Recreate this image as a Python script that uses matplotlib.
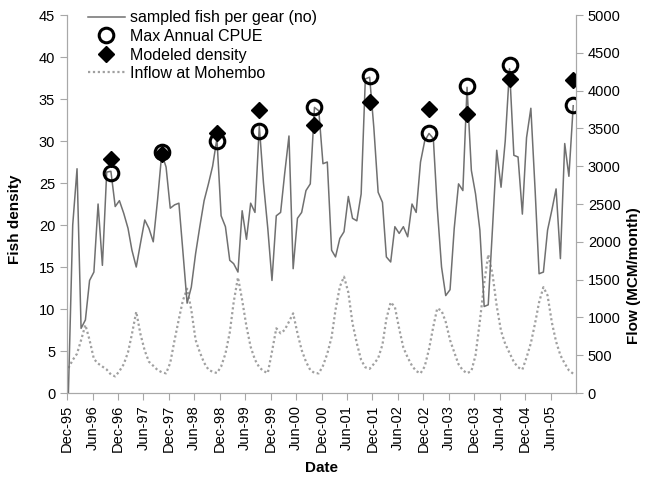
import pandas as pd
import matplotlib
matplotlib.use("Agg")
import matplotlib.pyplot as plt
import matplotlib.dates as mdates

plt.rcParams['font.family'] = ['Liberation Sans', 'DejaVu Sans']

# monthly series, Dec-95 .. Nov-05
fish = [0, 20, 26.7, 7.7, 8.7, 13.4, 14.4, 22.5, 15.2, 26.3,
        26.4, 22.2, 22.9, 21.4, 19.6, 17, 15, 17.8, 20.6, 19.6,
        18, 23, 28.5, 26.9, 22, 22.4, 22.6, 17, 10.7, 12.6,
        16.6, 19.8, 22.9, 24.9, 27, 30.3, 21.1, 19.8, 15.8, 15.4,
        14.4, 21.7, 18.3, 22.6, 21.5, 31.8, 25, 19.6, 13.4, 21.1,
        21.5, 26.1, 30.6, 14.8, 20.8, 21.5, 24.1, 24.9, 34, 33.6,
        27.3, 27.5, 17, 16.2, 18.4, 19.2, 23.4, 20.8, 20.5, 23.7,
        37.4, 37.6, 31.6, 23.9, 22.7, 16.2, 15.6, 19.8, 19, 19.8,
        18.6, 22.5, 21.5, 27.5, 30, 30.9, 30.3, 22.1, 15, 11.6,
        12.3, 19.6, 24.9, 24.1, 36.4, 26.5, 23.7, 19.4, 10.3, 10.5,
        19.7, 28.9, 24.5, 30, 38.6, 28.3, 28.1, 21.3, 30.4, 33.9,
        24, 14.2, 14.4, 19.4, 21.8, 24.3, 16, 29.7, 25.8, 34.2]

flow = [330, 437, 520, 700, 900, 700, 450, 390, 350, 310,
        245, 220, 290, 380, 540, 780, 1075, 780, 560, 414,
        360, 304, 275, 260, 400, 700, 980, 1220, 1380, 1100,
        700, 540, 400, 310, 280, 265, 350, 520, 800, 1200,
        1530, 1230, 880, 610, 440, 340, 290, 265, 546, 856,
        790, 834, 943, 1054, 790, 569, 414, 304, 265, 260,
        360, 520, 740, 1100, 1406, 1539, 1330, 922, 657, 437,
        340, 320, 385, 460, 640, 980, 1200, 1140, 850, 600,
        470, 360, 290, 260, 350, 580, 880, 1120, 1090, 940,
        700, 540, 380, 300, 262, 290, 500, 950, 1450, 1830,
        1570, 1150, 820, 650, 530, 410, 340, 310, 470, 660,
        930, 1200, 1400, 1290, 930, 680, 500, 390, 300, 255]

# annual max CPUE and modelled density (index into the monthly series)
peak_idx = [10, 22, 35, 45, 58, 71, 85, 94, 104, 119]
max_cpue = [26.2, 28.7, 30.0, 31.2, 34.0, 37.7, 31.0, 36.6, 39.1, 34.3]
modeled = [27.9, 28.4, 30.9, 33.7, 31.9, 34.7, 33.8, 33.2, 37.4, 37.3]

dates = pd.date_range('1995-12-01', periods=len(fish), freq='MS') + pd.Timedelta(days=10)
peak_dates = dates[peak_idx]
tick_dates = pd.date_range('1995-12-01', '2005-06-01', freq='6MS')

fig = plt.figure(figsize=(6.48, 4.83), dpi=100)
ax = fig.add_axes([0.1034, 0.1863, 0.7855, 0.7826])
ax2 = ax.twinx()

l1, = ax.plot(dates, fish, color='#707070', lw=1.1, label='sampled fish per gear (no)')
l2, = ax.plot(peak_dates, max_cpue, 'o', ms=10.5, mfc='none', mec='black', mew=2.2,
              label='Max Annual CPUE')
l3, = ax.plot(peak_dates, modeled, 'D', ms=8, color='black', label='Modeled density')
l4, = ax2.plot(dates, flow, color='#a0a0a0', lw=1.6, ls=(0, (1, 1.2)),
               label='Inflow at Mohembo')

ax.set_zorder(ax2.get_zorder() + 1)
ax.patch.set_visible(False)

ax.set_xlim(pd.Timestamp('1995-12-01'), pd.Timestamp('2005-12-01'))
ax.set_ylim(0, 45)
ax.set_yticks(range(0, 46, 5))
ax2.set_ylim(0, 5000)
ax2.set_yticks(range(0, 5001, 500))

ax.set_xticks(tick_dates)
ax.xaxis.set_major_formatter(mdates.DateFormatter('%b-%y'))
plt.setp(ax.get_xticklabels(), rotation=90)

for a in (ax, ax2):
    for s in a.spines.values():
        s.set_color('#a8a8a8')
    a.spines['top'].set_visible(False)
    a.tick_params(colors='#a8a8a8', labelcolor='black', labelsize=10.5, length=5,
                  direction='out')

ax.set_ylabel('Fish density', fontsize=11, fontweight='bold')
ax.yaxis.set_label_coords(-0.088, 0.46)
ax2.set_ylabel('Flow (MCM/month)', fontsize=11, fontweight='bold', rotation=90)
ax2.yaxis.set_label_coords(1.1, 0.31)
ax.set_xlabel('Date', fontsize=11, fontweight='bold', labelpad=6)

ax.legend(handles=[l1, l2, l3, l4], loc='upper left', bbox_to_anchor=(0.041, 1.012),
          frameon=False, fontsize=11.5, handlelength=2.3, handletextpad=0.35,
          labelspacing=0.22, borderaxespad=0, borderpad=0)

fig.savefig('out.png', dpi=100)
